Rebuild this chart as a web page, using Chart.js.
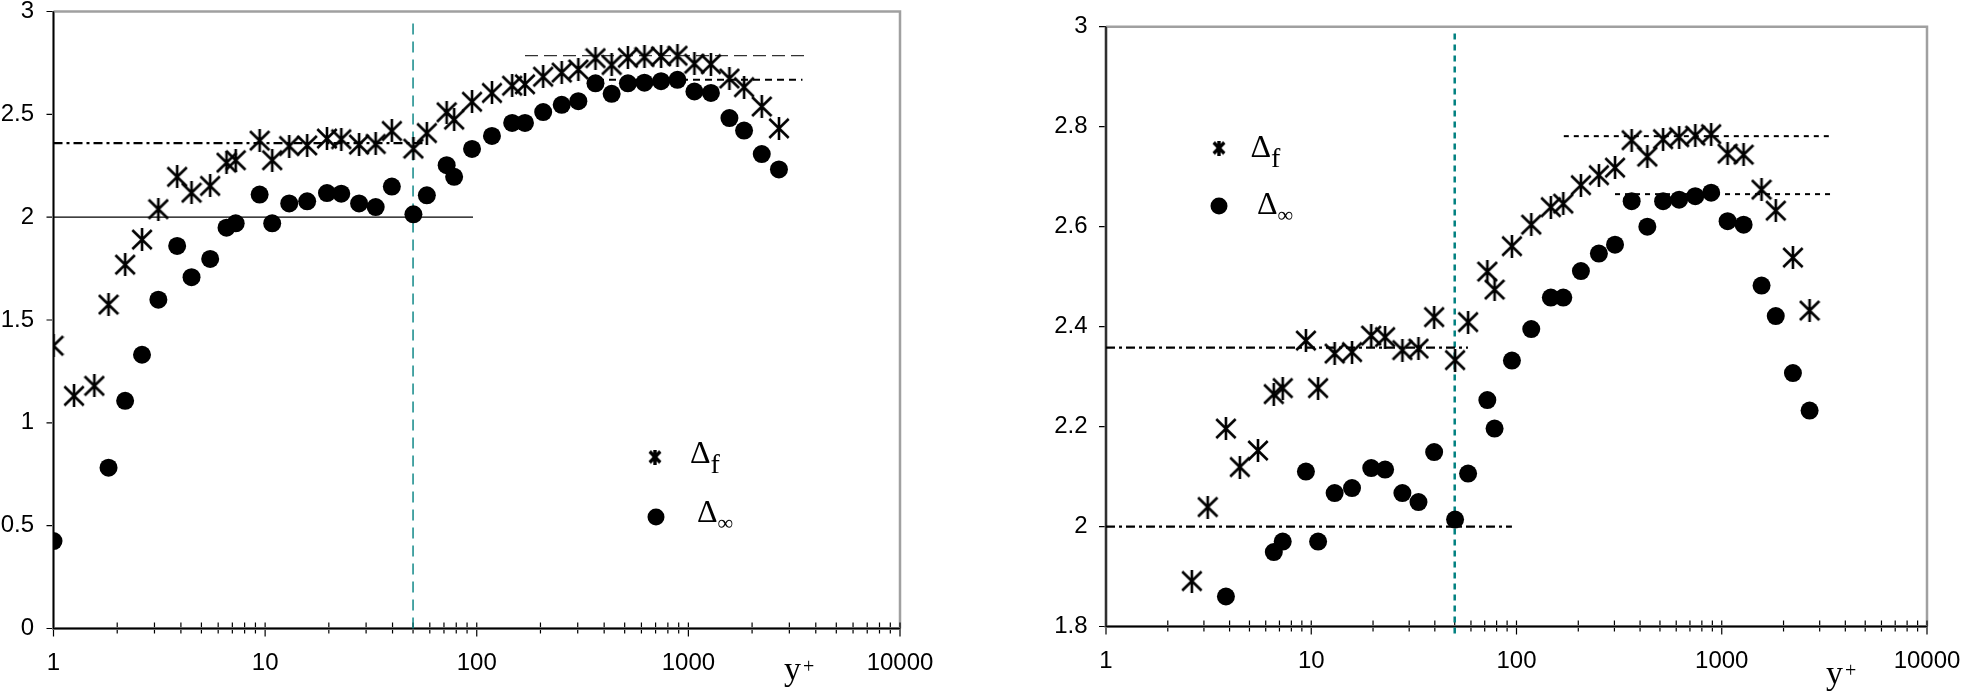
<!DOCTYPE html>
<html>
<head>
<meta charset="utf-8">
<title>Δf and Δ∞ against y+</title>
<script src="https://cdn.jsdelivr.net/npm/chart.js@4.4.1/dist/chart.umd.min.js"></script>
<style>
    html, body { margin: 0; padding: 0; background: #fff; }
    body { width: 1962px; height: 692px; position: relative; overflow: hidden; }
    canvas { position: absolute; top: 0; }
    #full { left: 0; }
    #zoomed { left: 1000px; }
</style>
</head>
<body>
<canvas id="full" width="1000" height="692"></canvas>
<canvas id="zoomed" width="962" height="692"></canvas>
<script>
// y+ positions shared by both series
const yPlus = [1, 1.25, 1.56, 1.82, 2.18, 2.62, 3.13, 3.84, 4.49, 5.5,
    6.57, 7.26, 9.42, 10.8, 13.0, 15.8, 19.6, 22.9, 27.8, 33.3,
    39.7, 50.2, 58.1, 72.1, 78.2, 95, 118, 147, 169, 206,
    252, 302, 364, 434, 518, 620, 743, 888, 1068, 1278,
    1563, 1833, 2222, 2679];
const deltaF = [1.375, 1.131, 1.18, 1.575, 1.769, 1.891, 2.039, 2.196, 2.119, 2.152,
    2.265, 2.277, 2.372, 2.277, 2.346, 2.349, 2.382, 2.379, 2.353, 2.356,
    2.419, 2.333, 2.409, 2.510, 2.474, 2.561, 2.604, 2.639, 2.646, 2.683,
    2.703, 2.718, 2.773, 2.740, 2.775, 2.779, 2.782, 2.785, 2.746, 2.744,
    2.674, 2.632, 2.538, 2.432];
const deltaInf = [0.425, null, null, 0.782, 1.107, 1.331, 1.599, 1.860, 1.708, 1.797,
    1.949, 1.970, 2.110, 1.970, 2.067, 2.077, 2.117, 2.114, 2.067, 2.049,
    2.149, 2.014, 2.106, 2.253, 2.196, 2.332, 2.395, 2.458, 2.458, 2.511,
    2.546, 2.564, 2.651, 2.600, 2.651, 2.654, 2.661, 2.668, 2.611, 2.604,
    2.482, 2.421, 2.307, 2.232];

const xTickLabels = [1, 10, 100, 1000, 10000];
const xMinorSteps = [2, 3, 4, 5, 6, 7, 8, 9];
const fullYTicks = [0, 0.5, 1, 1.5, 2, 2.5, 3];
const zoomYTicks = [1.8, 2, 2.2, 2.4, 2.6, 2.8, 3];

// vertical marker at y+ = 50, and its extent on each chart
const wallLimit = 50;
const fullWallSpan = [0, 2.975];
const zoomWallSpan = [1.786, 2.993];

// horizontal reference levels: value, first y+, last y+
const fullLevels = [2.36, 2.0, 2.785, 2.668];
const fullLevelFrom = [1, 1, 169, 370];
const fullLevelTo = [58, 96, 3660, 3460];
const zoomLevels = [2.358, 2.0, 2.781, 2.665];
const zoomLevelFrom = [1, 1, 170, 302];
const zoomLevelTo = [58, 95, 3430, 3430];

const SANS = '"Liberation Sans", Arial, sans-serif';
const SERIF = '"Liberation Serif", "Times New Roman", serif';

function starMarker(w, h, lw) {
    const c = document.createElement('canvas');
    c.width = w;
    c.height = h;
    const g = c.getContext('2d');
    g.strokeStyle = '#000';
    g.lineWidth = lw;
    const m = lw / 2;
    g.beginPath();
    g.moveTo(w / 2, 0);
    g.lineTo(w / 2, h);
    g.moveTo(m, 2);
    g.lineTo(w - m, h - 2);
    g.moveTo(w - m, 2);
    g.lineTo(m, h - 2);
    g.stroke();
    return c;
}
const dataStar = starMarker(22, 23, 2.6);
const legendStar = starMarker(14, 15, 3.4);

function subText(ctx, main, sub, x, y, drop, mainSize, subSize) {
    ctx.font = `${mainSize}px ${SERIF}`;
    ctx.fillText(main, x, y);
    const w = ctx.measureText(main).width;
    ctx.font = `${subSize}px ${SERIF}`;
    ctx.fillText(sub, x + w, y + drop);
}

const frame = {
    id: 'frame',
    beforeDatasetsDraw(chart) {
        const { ctx, chartArea: a, scales: { x, y } } = chart;
        ctx.save();
        ctx.strokeStyle = '#a0a0a0';
        ctx.lineWidth = 2.5;
        ctx.beginPath();
        ctx.moveTo(a.left, a.top);
        ctx.lineTo(a.right, a.top);
        ctx.lineTo(a.right, a.bottom);
        ctx.stroke();

        ctx.strokeStyle = '#000';
        ctx.lineWidth = 1.2;
        ctx.beginPath();
        for (const d of xTickLabels) {
            const px = x.getPixelForValue(d);
            ctx.moveTo(px, a.bottom - 6);
            ctx.lineTo(px, a.bottom + 8);
            if (d >= x.max) continue;
            for (const m of xMinorSteps) {
                const p = x.getPixelForValue(d * m);
                ctx.moveTo(p, a.bottom - 6);
                ctx.lineTo(p, a.bottom + 5);
            }
        }
        for (const t of y.ticks) {
            const py = y.getPixelForValue(t.value);
            ctx.moveTo(a.left - 7, py);
            ctx.lineTo(a.left, py);
        }
        ctx.stroke();

        ctx.beginPath();
        ctx.moveTo(a.left, a.top);
        ctx.lineTo(a.left, a.bottom);
        ctx.lineTo(a.right, a.bottom);
        ctx.strokeStyle = '#8a8a8a';
        ctx.lineWidth = 3;
        ctx.stroke();
        ctx.strokeStyle = '#000';
        ctx.lineWidth = 1.3;
        ctx.stroke();
        ctx.restore();
    },
    afterDraw(chart, args, o) {
        const ctx = chart.ctx;
        ctx.save();
        ctx.fillStyle = '#000';
        ctx.textBaseline = 'alphabetic';
        ctx.drawImage(legendStar, o.star[0] - legendStar.width / 2, o.star[1] - legendStar.height / 2);
        ctx.beginPath();
        ctx.arc(o.dot[0], o.dot[1], 8.5, 0, Math.PI * 2);
        ctx.fill();
        subText(ctx, 'Δ', 'f', o.fText[0], o.fText[1], 10, 32, 28);
        subText(ctx, 'Δ', '∞', o.infText[0], o.infText[1], 8, 32, 22);

        ctx.font = `34px ${SERIF}`;
        ctx.fillText('y', o.yLabel[0], o.yLabel[1]);
        const w = ctx.measureText('y').width;
        ctx.font = `20px ${SERIF}`;
        ctx.fillText('+', o.yLabel[0] + w + 2, o.yLabel[1] - 7);
        ctx.restore();
    },
};

function levelSets(levels, from, to, styles) {
    return levels.map((v, i) => ({
        data: [{ x: from[i], y: v }, { x: to[i], y: v }],
        showLine: true,
        pointRadius: 0,
        borderColor: styles[i].color,
        borderWidth: styles[i].width,
        borderDash: styles[i].dash,
        order: 2,
    }));
}

function makeChart(id, cfg) {
    const yMin = cfg.yTicks[0];
    const yMax = cfg.yTicks[cfg.yTicks.length - 1];
    const points = (vals) => yPlus
        .map((x, i) => ({ x, y: vals[i] }))
        .filter((p) => p.y != null && p.y >= yMin && p.y <= yMax);

    const datasets = [
        {
            label: 'Δf',
            data: points(deltaF),
            pointStyle: dataStar,
            pointRadius: 11,
            order: 0,
        },
        {
            label: 'Δ∞',
            data: points(deltaInf),
            pointStyle: 'circle',
            pointRadius: 9,
            pointBackgroundColor: '#000',
            pointBorderWidth: 0,
            order: 1,
        },
        ...levelSets(cfg.levels, cfg.levelFrom, cfg.levelTo, cfg.levelStyles),
        {
            data: [{ x: wallLimit, y: cfg.wallSpan[0] }, { x: wallLimit, y: cfg.wallSpan[1] }],
            showLine: true,
            pointRadius: 0,
            borderColor: '#008080',
            borderWidth: cfg.wallWidth,
            borderDash: cfg.wallDash,
            clip: false,
            order: 3,
        },
    ];

    return new Chart(document.getElementById(id), {
        type: 'scatter',
        data: { datasets },
        options: {
            responsive: false,
            animation: false,
            events: [],
            layout: { autoPadding: false, padding: cfg.padding },
            plugins: {
                legend: { display: false },
                tooltip: { enabled: false },
                frame: cfg.decor,
            },
            scales: {
                x: {
                    type: 'logarithmic',
                    min: 1,
                    max: 10000,
                    afterBuildTicks: (s) => { s.ticks = xTickLabels.map((v) => ({ value: v })); },
                    // fixed axis band; label overhang must not shrink the plot
                    afterFit: (s) => {
                        s.height = cfg.xHeight;
                        s.paddingLeft = 0;
                        s.paddingRight = 0;
                    },
                    grid: { display: false, drawTicks: false },
                    border: { display: false },
                    ticks: {
                        autoSkip: false,
                        maxRotation: 0,
                        padding: 20,
                        color: '#000',
                        font: { family: SANS, size: 24 },
                        callback: (v) => String(v),
                    },
                },
                y: {
                    min: yMin,
                    max: yMax,
                    afterBuildTicks: (s) => { s.ticks = cfg.yTicks.map((v) => ({ value: v })); },
                    afterFit: (s) => {
                        s.width = cfg.yWidth;
                        s.paddingTop = 0;
                        s.paddingBottom = 0;
                    },
                    grid: { display: false, drawTicks: false },
                    border: { display: false },
                    ticks: {
                        padding: cfg.yPad,
                        color: '#000',
                        font: { family: SANS, size: 24 },
                        callback: (v) => String(v),
                    },
                },
            },
        },
        plugins: [frame],
    });
}

window.addEventListener('load', () => {
    makeChart('full', {
        yTicks: fullYTicks,
        padding: { left: 0, right: 100, top: 11.5, bottom: 0 },
        yWidth: 53.5,
        xHeight: 63.5,
        yPad: 19.5,
        levels: fullLevels,
        levelFrom: fullLevelFrom,
        levelTo: fullLevelTo,
        levelStyles: [
            { color: '#000', width: 2.2, dash: [9, 4, 3, 4] },
            { color: '#000', width: 1.4, dash: [] },
            { color: '#333', width: 1.2, dash: [13, 6] },
            { color: '#000', width: 2, dash: [7, 5] },
        ],
        wallSpan: fullWallSpan,
        wallWidth: 1.4,
        wallDash: [11, 7],
        decor: { star: [655, 457], dot: [656, 517], fText: [690, 463], infText: [697, 522], yLabel: [784, 680] },
    });

    makeChart('zoomed', {
        yTicks: zoomYTicks,
        padding: { left: 0, right: 35, top: 26.7, bottom: 0 },
        yWidth: 106,
        xHeight: 65.5,
        yPad: 18.5,
        levels: zoomLevels,
        levelFrom: zoomLevelFrom,
        levelTo: zoomLevelTo,
        levelStyles: [
            { color: '#000', width: 2.2, dash: [9, 4, 3, 4] },
            { color: '#000', width: 2.2, dash: [9, 4, 3, 4] },
            { color: '#000', width: 2, dash: [5, 5] },
            { color: '#000', width: 2, dash: [5, 5] },
        ],
        wallSpan: zoomWallSpan,
        wallWidth: 2.5,
        wallDash: [6, 5],
        decor: { star: [219, 148], dot: [219, 206], fText: [250.5, 157], infText: [257, 213.5], yLabel: [826, 684] },
    });
});
</script>
</body>
</html>
